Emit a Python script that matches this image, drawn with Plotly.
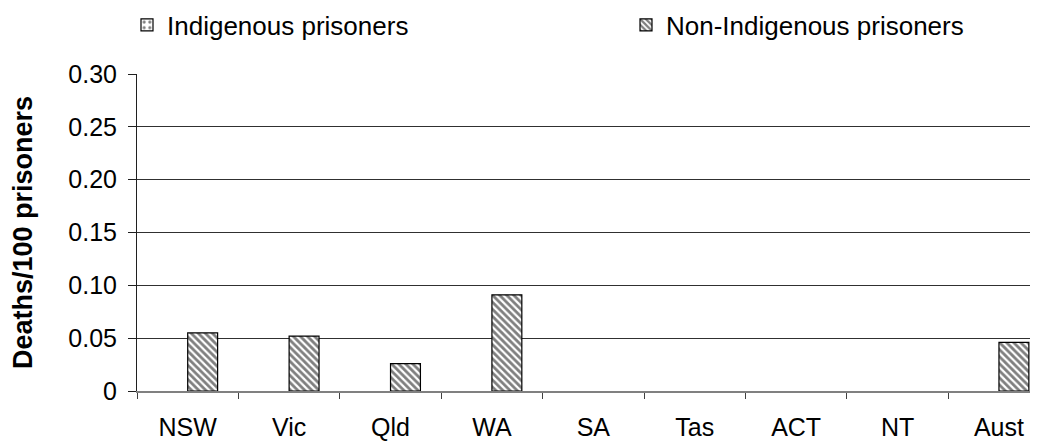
import plotly.graph_objects as go

categories = ["NSW", "Vic", "Qld", "WA", "SA", "Tas", "ACT", "NT", "Aust"]
indigenous = [None, None, None, None, None, None, None, None, None]
non_indigenous = [0.055, 0.052, 0.026, 0.091, None, None, None, None, 0.046]
y_tickvals = [0, 0.05, 0.10, 0.15, 0.20, 0.25, 0.30]
y_ticktext = ["0", "0.05", "0.10", "0.15", "0.20", "0.25", "0.30"]

FONT = "Liberation Sans, Arial, sans-serif"
W, H = 1030, 433  # page body has an 8px margin

fig = go.Figure()
fig.add_trace(go.Bar(
    x=categories, y=indigenous, name="Indigenous prisoners",
    marker=dict(color="white", line=dict(color="black", width=1.2),
                pattern=dict(shape=".", fgcolor="black", bgcolor="white", size=7, solidity=0.25)),
    legend="legend", showlegend=True,
))
fig.add_trace(go.Bar(
    x=categories, y=non_indigenous, name="Non-Indigenous prisoners",
    marker=dict(color="white", line=dict(color="black", width=1.2),
                pattern=dict(shape="\\", fgcolor="black", bgcolor="white", size=5, solidity=0.55)),
    legend="legend2", showlegend=True,
))

fig.update_layout(
    width=W, height=H,
    margin=dict(l=129, r=0, t=66, b=50),
    paper_bgcolor="white", plot_bgcolor="white",
    barmode="group", bargap=0.41, bargroupgap=0,
    showlegend=True,
    font=dict(family=FONT, color="black"),
    legend=dict(xref="container", yref="container", x=119 / W, xanchor="left",
                y=1 - 17 / H, yanchor="middle", orientation="h",
                font=dict(size=26, family=FONT), bgcolor="rgba(0,0,0,0)"),
    legend2=dict(xref="container", yref="container", x=618 / W, xanchor="left",
                 y=1 - 17 / H, yanchor="middle", orientation="h",
                 font=dict(size=26, family=FONT), bgcolor="rgba(0,0,0,0)"),
    xaxis=dict(
        type="category", range=[-0.5, 8.385],
        showline=True, linecolor="#808080", linewidth=2,
        ticks="outside", tickson="boundaries", ticklen=6, tickcolor="#404040", tickwidth=1,
        tickfont=dict(size=25, family=FONT), ticklabelstandoff=13,
        showgrid=False, zeroline=False,
    ),
    yaxis=dict(
        range=[0, 0.30], tickvals=y_tickvals, ticktext=y_ticktext,
        showline=True, linecolor="#202020", linewidth=1,
        ticks="outside", ticklen=8, tickcolor="#202020",
        tickfont=dict(size=25, family=FONT), ticklabelstandoff=6,
        showgrid=True, gridcolor="#303030", gridwidth=1, zeroline=False,
        title=dict(text="<b>Deaths/100 prisoners</b>", font=dict(size=27, family=FONT), standoff=30),
    ),
)

fig.write_html("out.html")
